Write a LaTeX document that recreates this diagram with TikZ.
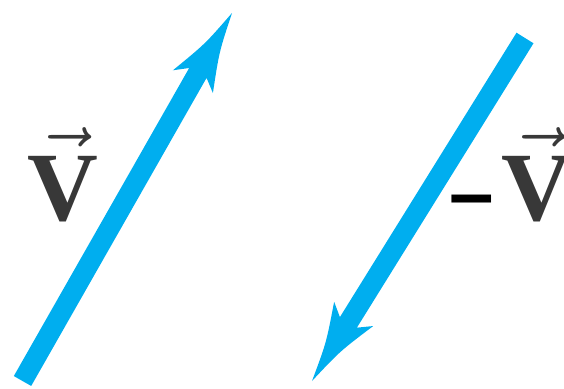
\documentclass[tikz,border=0pt]{standalone}
\usepackage{fontspec}
\setmainfont{Liberation Serif}
\newfontfamily\dashfont{Liberation Sans}
\usetikzlibrary{calc}
\definecolor{arrowblue}{HTML}{00AEEF}
\definecolor{labelgray}{HTML}{383838}
\newcommand\fatarrow[3]{% #1 prefix, #2 tail, #3 tip
  \coordinate (#1j) at ($(#3)!69pt!(#2)$);
  \coordinate (#1b) at ($(#3)!79pt!(#2)$);
  \coordinate (#1c) at ($(#3)!40pt!(#2)$);
  \fill[arrowblue] ($(#2)!10pt!90:(#3)$) -- ($(#1j)!10pt!90:(#3)$)
    -- ($(#1b)!23pt!90:(#3)$) .. controls ($(#1c)!8pt!90:(#3)$) .. (#3)
    .. controls ($(#1c)!8pt!-90:(#3)$) .. ($(#1b)!23pt!-90:(#3)$)
    -- ($(#1j)!10pt!-90:(#3)$) -- ($(#2)!10pt!-90:(#3)$) -- cycle;
}
\newcommand\bigvec{\fontsize{24.5}{24.5}\selectfont\scalebox{4}{$\vec{\mathbf{V}}$}}
\tikzset{
  vlabel/.style={inner sep=0pt, text=labelgray},
  minuslabel/.style={inner sep=0pt, text=black, font=\dashfont\fontsize{80}{80}\selectfont\bfseries}
}
\begin{document}
\begin{tikzpicture}[x=1pt,y=-1pt]
  \useasboundingbox (0,0) rectangle (564,388);
  \coordinate (t1) at (22.5,381);
  \coordinate (p1) at (232,13);
  \coordinate (t2) at (525,38);
  \coordinate (p2) at (312,381);
  \fatarrow{a}{t1}{p1}
  \fatarrow{b}{t2}{p2}
  \node[vlabel, anchor=base] (v) at (62.5,220) {\bigvec};
  \node[vlabel, anchor=base] (nv) at (536.5,220) {\bigvec};
  \node[minuslabel] (minus) at (471.5,208) {–};
\end{tikzpicture}
\end{document}
